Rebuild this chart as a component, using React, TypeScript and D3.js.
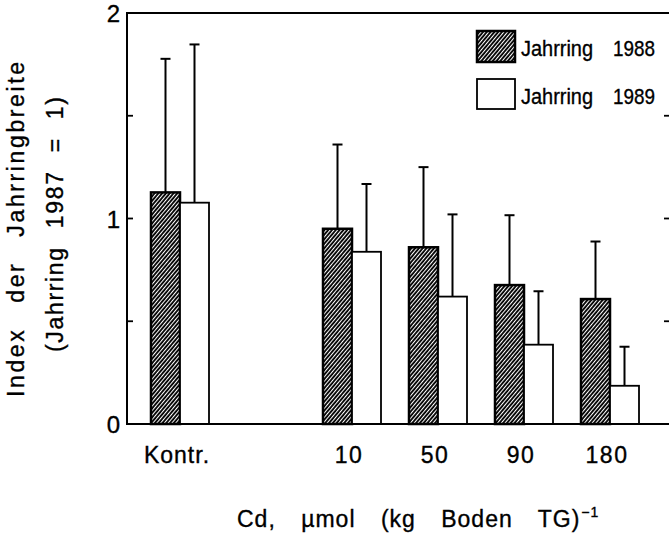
import React from "react";
import * as d3 from "d3";

const categories = ["Kontr.", "gap", "10", "50", "90", "180"];
const shownCategories = ["Kontr.", "10", "50", "90", "180"];
const mean1988 = [1.127, 0.95, 0.86, 0.676, 0.608];
const sd1988 = [0.65, 0.41, 0.39, 0.34, 0.28];
const mean1989 = [1.077, 0.838, 0.62, 0.386, 0.186];
const sd1989 = [0.77, 0.33, 0.4, 0.26, 0.19];
const yTicksMajor = [0, 1, 2];
const yTicksMinor = [0.5, 1, 1.5];
const legendLabels = ["Jahrring", "Jahrring"];
const legendYears = ["1988", "1989"];
const yTitle1 = "Index der Jahrringbreite";
const yTitle2 = "(Jahrring 1987 = 1)";
const xTitle = "Cd, µmol (kg Boden TG)";

const W = 669;
const H = 538;
const FONT = "'Liberation Sans', Arial, Helvetica, sans-serif";

export default function App() {
  const left = 127;
  const right = 669;
  const x = d3.scalePoint<string>().domain(categories).range([180, 610]);
  const y = d3.scaleLinear().domain([0, 2]).range([424, 13]);
  const bw = 29;

  const bars = shownCategories.map((c, i) => ({
    c,
    cx: x(c) as number,
    m88: mean1988[i],
    s88: sd1988[i],
    m89: mean1989[i],
    s89: sd1989[i],
  }));

  const textStyle = { stroke: "#000", strokeWidth: 0.35 } as const;

  return (
    <svg
      width={W}
      height={H}
      style={{ position: "absolute", left: 0, top: 0, background: "#fff" }}
      fontFamily={FONT}
    >
      <defs>
        <pattern
          id="hatch"
          patternUnits="userSpaceOnUse"
          width={2.9}
          height={10}
          patternTransform="rotate(40)"
        >
          <rect x={0} y={0} width={2.9} height={10} fill="#000" />
          <rect x={0} y={0} width={1.05} height={10} fill="#fff" />
        </pattern>
      </defs>
      <rect x={0} y={0} width={W} height={H} fill="#fff" />

      {/* error bars */}
      {bars.map((b) => {
        const x88 = b.cx - bw / 2;
        const x89 = b.cx + bw / 2;
        return (
          <g key={"e" + b.c} stroke="#000" strokeWidth={2}>
            <line x1={x88} x2={x88} y1={y(b.m88)} y2={y(b.m88 + b.s88)} />
            <line x1={x88 - 5} x2={x88 + 5} y1={y(b.m88 + b.s88)} y2={y(b.m88 + b.s88)} />
            <line x1={x89} x2={x89} y1={y(b.m89)} y2={y(b.m89 + b.s89)} />
            <line x1={x89 - 5} x2={x89 + 5} y1={y(b.m89 + b.s89)} y2={y(b.m89 + b.s89)} />
          </g>
        );
      })}

      {/* bars */}
      {bars.map((b) => (
        <g key={"b" + b.c}>
          <rect
            x={b.cx - bw}
            y={y(b.m88)}
            width={bw}
            height={y(0) - y(b.m88)}
            fill="url(#hatch)"
            stroke="#000"
            strokeWidth={2.5}
          />
          <rect
            x={b.cx}
            y={y(b.m89)}
            width={bw}
            height={y(0) - y(b.m89)}
            fill="#fff"
            stroke="#000"
            strokeWidth={1.8}
          />
        </g>
      ))}

      {/* frame */}
      <g stroke="#000" fill="none">
        <line x1={left} x2={left} y1={y(2) - 1} y2={y(0) + 1} strokeWidth={2} />
        <line x1={left - 1} x2={right} y1={y(0)} y2={y(0)} strokeWidth={2} />
        <line x1={left - 1} x2={right} y1={y(2)} y2={y(2)} strokeWidth={2} />
        {yTicksMinor.map((t) => (
          <line key={"lt" + t} x1={left} x2={left + 6} y1={y(t)} y2={y(t)} strokeWidth={1.8} />
        ))}
        {yTicksMinor.map((t) => (
          <line key={"rt" + t} x1={right - 5} x2={right} y1={y(t)} y2={y(t)} strokeWidth={1.8} />
        ))}
      </g>

      {/* y tick labels */}
      {yTicksMajor.map((t) => (
        <text
          key={"yl" + t}
          x={left - 7}
          y={y(t) + 9}
          textAnchor="end"
          fontSize={24}
          fill="#000"
          {...textStyle}
        >
          {t}
        </text>
      ))}

      {/* x tick labels */}
      {shownCategories.map((c) => (
        <text
          key={"xl" + c}
          x={(x(c) as number) - 3}
          y={463}
          textAnchor="middle"
          fontSize={23}
          letterSpacing={c === "Kontr." ? 1 : 1.5}
          fill="#000"
          {...textStyle}
        >
          {c}
        </text>
      ))}

      {/* x title */}
      <text
        x={237}
        y={527}
        fontSize={23}
        fill="#000"
        wordSpacing={18}
        letterSpacing={1}
        {...textStyle}
      >
        {xTitle}
        <tspan fontSize={14} dy={-10} dx={1}>{"−1"}</tspan>
      </text>

      {/* y titles */}
      <text
        transform="translate(24,397) rotate(-90)"
        fontSize={23}
        fill="#000"
        wordSpacing={16}
        textLength={335}
        lengthAdjust="spacing"
        {...textStyle}
      >
        {yTitle1}
      </text>
      <text
        transform="translate(63,352) rotate(-90)"
        fontSize={23}
        fill="#000"
        wordSpacing={10}
        textLength={255}
        lengthAdjust="spacing"
        {...textStyle}
      >
        {yTitle2}
      </text>

      {/* legend */}
      <rect x={477} y={31} width={38} height={31} fill="url(#hatch)" stroke="#000" strokeWidth={2.5} />
      <rect x={477} y={79} width={38} height={30} fill="#fff" stroke="#000" strokeWidth={1.8} />
      {legendLabels.map((l, i) => (
        <g key={"lg" + i}>
          <text
            x={521}
            y={56 + i * 48}
            fontSize={22}
            fill="#000"
            textLength={72}
            lengthAdjust="spacingAndGlyphs"
            {...textStyle}
          >
            {l}
          </text>
          <text
            x={613}
            y={56 + i * 48}
            fontSize={22}
            fill="#000"
            textLength={42}
            lengthAdjust="spacingAndGlyphs"
            {...textStyle}
          >
            {legendYears[i]}
          </text>
        </g>
      ))}
    </svg>
  );
}
